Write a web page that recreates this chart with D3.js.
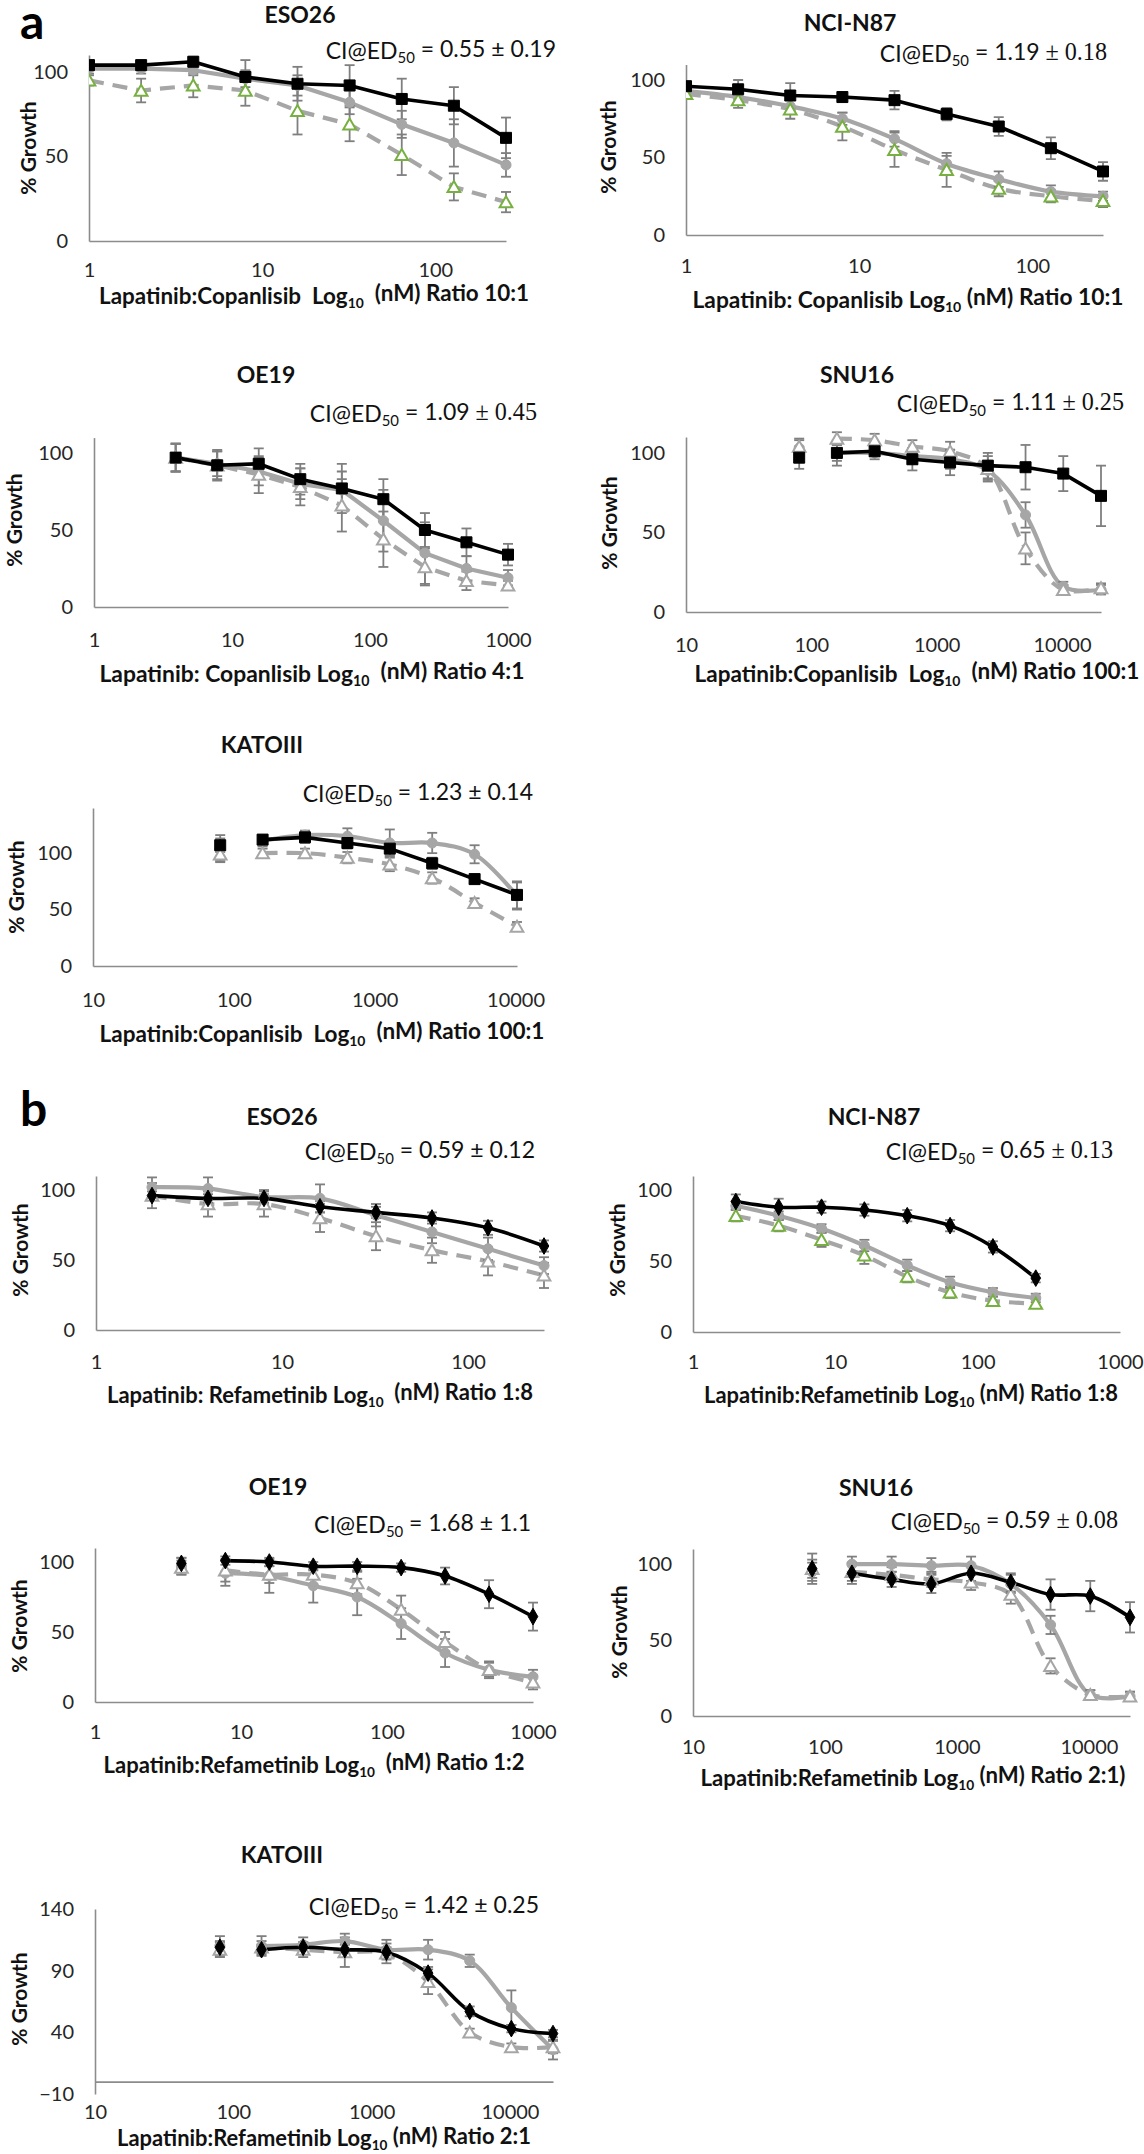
<!DOCTYPE html>
<html><head><meta charset="utf-8">
<script src="https://cdn.jsdelivr.net/npm/d3@7"></script>
<style>
html,body{margin:0;padding:0;background:#fff;}
svg{display:block;}
text{font-family:Lato,'Noto Sans',sans-serif;white-space:pre;}
</style></head><body>
<svg id="fig" width="1144" height="2154"></svg>
<script>
// ---------- DATA ----------
const aESO26_dose = [1, 2, 4, 8, 16, 32, 64, 128, 256];
const aESO26_black = [104, 104, 106, 97, 93, 92, 84, 80, 61];
const aESO26_blackErr = [3, 3, 3, 10, 10, 12, 12, 11, 12];
const aESO26_gray = [102, 102, 101, 96, 92, 82, 69, 58, 45];
const aESO26_grayErr = [3, 3, 3, 5, 6, 7, 8, 14, 7];
const aESO26_tri = [95, 89, 92, 89, 77, 69, 51, 32, 23];
const aESO26_triErr = [3, 7, 7, 9, 14, 10, 12, 8, 6];

const aNCI_dose = [1, 2, 4, 8, 16, 32, 64, 128, 256];
const aNCI_black = [96, 94, 90, 89, 87, 78, 70, 56, 41];
const aNCI_blackErr = [3, 6, 8, 3, 6, 4, 6, 7, 6];
const aNCI_gray = [93, 89, 83, 75, 62, 46, 36, 28, 25];
const aNCI_grayErr = [3, 3, 4, 4, 5, 5, 5, 4, 3];
const aNCI_tri = [91, 87, 81, 70, 55, 42, 30, 25, 22];
const aNCI_triErr = [3, 5, 6, 9, 11, 11, 5, 4, 4];

const aOE19_dose = [3.90625, 7.8125, 15.625, 31.25, 62.5, 125, 250, 500, 1000];
const aOE19_black = [97, 92, 93, 83, 77, 70, 50, 42, 34];
const aOE19_blackErr = [9, 9, 10, 10, 16, 13, 11, 9, 7];
const aOE19_gray = [97, 93, 88, 80, 76, 56, 35, 25, 19];
const aOE19_grayErr = [9, 8, 9, 10, 12, 20, 20, 8, 5];
const aOE19_tri = [97, 92, 86, 78, 66, 44, 26, 17, 14];
const aOE19_triErr = [9, 10, 12, 12, 17, 18, 12, 6, 3];

const aSNU16_dose = [80, 160, 320, 640, 1280, 2560, 5120, 10240, 20480];
const aSNU16_black = [97, 100, 101, 96, 94, 92, 91, 87, 73];
const aSNU16_blackErr = [7, 8, 3, 7, 8, 8, 14, 11, 19];
const aSNU16_gray = [103, 100, 100, 98, 96, 89, 61, 16, 14];
const aSNU16_grayErr = [5, 5, 4, 5, 6, 6, 8, 3, 3];
const aSNU16_tri = [104, 109, 108, 104, 101, 90, 40, 14, 15];
const aSNU16_triErr = [5, 4, 4, 4, 6, 8, 10, 3, 3];

const aKATO_dose = [80, 160, 320, 640, 1280, 2560, 5120, 10240];
const aKATO_black = [107, 112, 114, 109, 104, 91, 77, 63];
const aKATO_blackErr = [6, 4, 5, 5, 6, 5, 4, 12];
const aKATO_gray = [104, 111, 116, 115, 109, 109, 99, 62];
const aKATO_grayErr = [12, 5, 4, 7, 12, 9, 8, 12];
const aKATO_tri = [99, 100, 100, 96, 90, 78, 56, 35];
const aKATO_triErr = [6, 4, 4, 5, 6, 5, 4, 4];

const bESO26_dose = [2, 4, 8, 16, 32, 64, 128, 256];
const bESO26_black = [96, 94, 94, 88, 84, 80, 73, 60];
const bESO26_blackErr = [3, 3, 3, 4, 4, 4, 5, 4];
const bESO26_gray = [102, 101, 95, 94, 82, 70, 58, 46];
const bESO26_grayErr = [7, 8, 5, 10, 8, 8, 8, 6];
const bESO26_tri = [96, 90, 90, 80, 67, 57, 49, 39];
const bESO26_triErr = [9, 9, 9, 10, 10, 9, 10, 9];

const bNCI_dose = [2, 4, 8, 16, 32, 64, 128, 256];
const bNCI_black = [92, 88, 88, 86, 82, 75, 60, 38];
const bNCI_blackErr = [5, 6, 4, 4, 4, 4, 4, 3];
const bNCI_gray = [89, 82, 73, 61, 47, 35, 28, 24];
const bNCI_grayErr = [3, 3, 3, 4, 4, 4, 3, 3];
const bNCI_tri = [82, 75, 65, 54, 39, 28, 22, 20];
const bNCI_triErr = [4, 4, 5, 6, 4, 4, 3, 3];

const bOE19_dose = [3.90625, 7.8125, 15.625, 31.25, 62.5, 125, 250, 500, 1000];
const bOE19_black = [99, 101, 100, 97, 97, 96, 90, 77, 61];
const bOE19_blackErr = [4, 3, 3, 3, 3, 3, 6, 10, 10];
const bOE19_gray = [97, 92, 90, 83, 75, 56, 35, 23, 18];
const bOE19_grayErr = [6, 9, 12, 12, 13, 11, 10, 6, 5];
const bOE19_tri = [96, 94, 91, 91, 85, 66, 43, 23, 14];
const bOE19_triErr = [5, 8, 6, 7, 8, 10, 7, 5, 5];

const bSNU16_dose = [80, 160, 320, 640, 1280, 2560, 5120, 10240, 20480];
const bSNU16_black = [97, 94, 90, 87, 94, 88, 80, 79, 65];
const bSNU16_blackErr = [10, 7, 5, 6, 5, 6, 10, 10, 10];
const bSNU16_gray = [95, 100, 100, 99, 99, 87, 60, 14, 13];
const bSNU16_grayErr = [6, 5, 5, 5, 6, 6, 6, 3, 3];
const bSNU16_tri = [97, 95, 93, 90, 88, 80, 33, 14, 13];
const bSNU16_triErr = [6, 6, 5, 5, 5, 6, 5, 3, 3];

const bKATO_dose = [80, 160, 320, 640, 1280, 2560, 5120, 10240, 20480];
const bKATO_black = [109, 107, 109, 107, 105, 88, 57, 43, 39];
const bKATO_blackErr = [5, 4, 4, 4, 4, 5, 4, 3, 3];
const bKATO_gray = [110, 110, 111, 114, 107, 107, 98, 60, 26];
const bKATO_grayErr = [8, 8, 6, 6, 8, 8, 5, 14, 8];
const bKATO_tri = [107, 109, 107, 105, 104, 81, 40, 28, 28];
const bKATO_triErr = [6, 5, 6, 12, 8, 10, 3, 3, 5];

const titles = ["ESO26", "NCI-N87", "OE19", "SNU16", "KATOIII", "ESO26", "NCI-N87", "OE19", "SNU16", "KATOIII"];
const ciMain = ["0.55", "1.19", "1.09", "1.11", "1.23", "0.59", "0.65", "1.68", "0.59", "1.42"];
const ciErr = ["0.19", "0.18", "0.45", "0.25", "0.14", "0.12", "0.13", "1.1", "0.08", "0.25"];
const xTitlePre = ["Lapatinib:Copanlisib  Log", "Lapatinib: Copanlisib Log", "Lapatinib: Copanlisib Log",
  "Lapatinib:Copanlisib  Log", "Lapatinib:Copanlisib  Log", "Lapatinib: Refametinib Log",
  "Lapatinib:Refametinib Log", "Lapatinib:Refametinib Log", "Lapatinib:Refametinib Log", "Lapatinib:Refametinib Log"];
const xTitlePost = ["  (nM) Ratio 10:1", " (nM) Ratio 10:1", "  (nM) Ratio 4:1", "  (nM) Ratio 100:1", "  (nM) Ratio 100:1",
  "  (nM) Ratio 1:8", " (nM) Ratio 1:8", "  (nM) Ratio 1:2", " (nM) Ratio 2:1)", " (nM) Ratio 2:1"];
const xDomains = [[1, 256], [1, 256], [1, 1000], [10, 20480], [10, 10240], [1, 256], [1, 1000], [1, 1000], [10, 20480], [10, 20480]];
const yDomains = [[0, 110], [0, 110], [0, 110], [0, 110], [0, 140], [0, 110], [0, 110], [0, 110], [0, 110], [-10, 140]];
const yTickSets = [[0, 50, 100], [0, 50, 100], [0, 50, 100], [0, 50, 100], [0, 50, 100], [0, 50, 100], [0, 50, 100], [0, 50, 100], [0, 50, 100], [-10, 40, 90, 140]];
const xTickSets = [[1, 10, 100], [1, 10, 100], [1, 10, 100, 1000], [10, 100, 1000, 10000], [10, 100, 1000, 10000],
  [1, 10, 100], [1, 10, 100, 1000], [1, 10, 100, 1000], [10, 100, 1000, 10000], [10, 100, 1000, 10000]];

// ---------- STYLE / LAYOUT ----------
const seriesSets = [
  [aESO26_dose, aESO26_black, aESO26_blackErr, aESO26_gray, aESO26_grayErr, aESO26_tri, aESO26_triErr],
  [aNCI_dose, aNCI_black, aNCI_blackErr, aNCI_gray, aNCI_grayErr, aNCI_tri, aNCI_triErr],
  [aOE19_dose, aOE19_black, aOE19_blackErr, aOE19_gray, aOE19_grayErr, aOE19_tri, aOE19_triErr],
  [aSNU16_dose, aSNU16_black, aSNU16_blackErr, aSNU16_gray, aSNU16_grayErr, aSNU16_tri, aSNU16_triErr],
  [aKATO_dose, aKATO_black, aKATO_blackErr, aKATO_gray, aKATO_grayErr, aKATO_tri, aKATO_triErr],
  [bESO26_dose, bESO26_black, bESO26_blackErr, bESO26_gray, bESO26_grayErr, bESO26_tri, bESO26_triErr],
  [bNCI_dose, bNCI_black, bNCI_blackErr, bNCI_gray, bNCI_grayErr, bNCI_tri, bNCI_triErr],
  [bOE19_dose, bOE19_black, bOE19_blackErr, bOE19_gray, bOE19_grayErr, bOE19_tri, bOE19_triErr],
  [bSNU16_dose, bSNU16_black, bSNU16_blackErr, bSNU16_gray, bSNU16_grayErr, bSNU16_tri, bSNU16_triErr],
  [bKATO_dose, bKATO_black, bKATO_blackErr, bKATO_gray, bKATO_grayErr, bKATO_tri, bKATO_triErr]
];
// ax: y-axis x, axEnd: x-axis end, py0/py1: pixel of y-domain min/max
const layouts = [
  {ax: 89, axEnd: 506, py0: 241, py1: 55, tx: 300, ty: 23, cx: 556, cy: 59, xl: 270, xtx: 314, xty: 304, xtw: 430, ytx: 27, yty: 148},
  {ax: 686, axEnd: 1103, py0: 235, py1: 64.5, tx: 850, ty: 31, cx: 1107, cy: 62, xl: 266, xtx: 908, xty: 308, xtw: 431, ytx: 607, yty: 147},
  {ax: 94, axEnd: 508, py0: 607, py1: 437.6, tx: 266, ty: 383, cx: 537, cy: 422, xl: 640, xtx: 312, xty: 682, xtw: 425, ytx: 13, yty: 520},
  {ax: 686, axEnd: 1101, py0: 612, py1: 437, tx: 857, ty: 383, cx: 1124, cy: 412, xl: 645, xtx: 917, xty: 682, xtw: 445, ytx: 608, yty: 523},
  {ax: 93, axEnd: 517, py0: 966, py1: 808, tx: 262, ty: 753, cx: 533, cy: 802, xl: 1000, xtx: 322, xty: 1042, xtw: 445, ytx: 15, yty: 887},
  {ax: 96, axEnd: 544, py0: 1330, py1: 1176, tx: 282, ty: 1125, cx: 535, cy: 1160, xl: 1362, xtx: 320, xty: 1403, xtw: 426, ytx: 19, yty: 1250},
  {ax: 693, axEnd: 1120, py0: 1332, py1: 1176, tx: 874, ty: 1125, cx: 1113, cy: 1160, xl: 1362, xtx: 911, xty: 1403, xtw: 414, ytx: 616, yty: 1250},
  {ax: 95, axEnd: 533, py0: 1702, py1: 1548, tx: 278, ty: 1495, cx: 531, cy: 1533, xl: 1732, xtx: 314, xty: 1773, xtw: 421, ytx: 18, yty: 1626},
  {ax: 693, axEnd: 1130, py0: 1716, py1: 1549, tx: 876, ty: 1496, cx: 1118, cy: 1530, xl: 1747, xtx: 913, xty: 1786, xtw: 425, ytx: 618, yty: 1632},
  {ax: 95, axEnd: 553, py0: 2094, py1: 1909, tx: 282, ty: 1863, cx: 539, cy: 1915, xl: 2112, xtx: 324, xty: 2146, xtw: 414, ytx: 18, yty: 1999}
];
const panelStyle = [
  {green: true, sq: true, smB: false, smG: false, start: 0, serif: false},
  {green: true, sq: true, smB: false, smG: true, start: 0, serif: true},
  {green: false, sq: true, smB: false, smG: false, start: 0, serif: true},
  {green: false, sq: true, smB: false, smG: true, start: 1, serif: true},
  {green: false, sq: true, smB: false, smG: true, start: 1, serif: false},
  {green: false, sq: false, smB: true, smG: true, start: 0, serif: false},
  {green: true, sq: false, smB: true, smG: true, start: 0, serif: true},
  {green: false, sq: false, smB: true, smG: true, start: 1, serif: false},
  {green: false, sq: false, smB: true, smG: true, start: 1, serif: true},
  {green: false, sq: false, smB: true, smG: true, start: 1, serif: false}
];

const GRAY = "#a6a6a6", ERR = "#7f7f7f", AXIS = "#8c8c8c", GREEN = "#77b041", TXT = "#262626";
const svg = d3.select("#fig");
svg.append("rect").attr("width", 1144).attr("height", 2154).attr("fill", "#fff");

function fitWidth(sel, target) {
  const w = sel.node().getBBox().width;
  const fs = parseFloat(sel.attr("font-size"));
  if (w > 0) sel.attr("font-size", (fs * target / w).toFixed(2));
}

titles.forEach((title, i) => {
  const L = layouts[i], S = panelStyle[i], D = seriesSets[i];
  const [dose, black, blackErr, gray, grayErr, tri, triErr] = D;
  const g = svg.append("g");
  const clipId = "clip" + i;
  const x = d3.scaleLog().domain(xDomains[i]).range([L.ax, L.axEnd]);
  const y = d3.scaleLinear().domain(yDomains[i]).range([L.py0, L.py1]);

  g.append("clipPath").attr("id", clipId).append("rect")
    .attr("x", L.ax).attr("y", L.py1 - 40).attr("width", L.axEnd - L.ax + 40).attr("height", L.py0 - L.py1 + 80);

  // axes
  const yAx = g.append("g").attr("transform", `translate(${L.ax},0)`)
    .call(d3.axisLeft(y).tickValues(yTickSets[i]).tickSize(0).tickPadding(21));
  const xAx = g.append("g").attr("transform", `translate(0,${y(0)})`)
    .call(d3.axisBottom(x).tickValues(xTickSets[i]).tickFormat(d3.format("d")).tickSize(0));
  [yAx, xAx].forEach(a => {
    a.select(".domain").attr("stroke", AXIS).attr("stroke-width", 1.6);
    a.selectAll(".tick line").remove();
    a.selectAll("text").attr("font-size", 20).attr("fill", TXT)
      .attr("font-family", "Lato, 'Noto Sans', sans-serif");
  });
  xAx.selectAll("text").attr("y", L.xl - y(0)).attr("dy", "0.35em");

  const plot = g.append("g").attr("clip-path", `url(#${clipId})`);
  const mk = (vals) => dose.map((d, k) => ({d, v: vals[k], k}));
  const series = [
    {vals: gray, err: grayErr, color: GRAY, width: 4.2, dash: null, sym: d3.symbolCircle, size: 80, fill: GRAY, stroke: GRAY, smooth: S.smG},
    {vals: tri, err: triErr, color: GRAY, width: 4.2, dash: "15,9", sym: d3.symbolTriangle, size: 70, fill: "#fff", stroke: S.green ? GREEN : GRAY, smooth: S.smG},
    {vals: black, err: blackErr, color: "#000", width: 3.6, dash: null, sym: S.sq ? d3.symbolSquare : d3.symbolDiamond, size: S.sq ? 121 : 80, fill: "#000", stroke: "#000", smooth: S.smB}
  ];
  // lines
  series.forEach(s => {
    const pts = mk(s.vals).filter(p => p.k >= S.start);
    const line = d3.line().x(p => x(p.d)).y(p => y(p.v))
      .curve(s.smooth ? d3.curveCatmullRom.alpha(0.5) : d3.curveLinear);
    plot.append("path").datum(pts).attr("d", line).attr("fill", "none")
      .attr("stroke", s.color).attr("stroke-width", s.width)
      .attr("stroke-dasharray", s.dash).attr("stroke-linejoin", "round");
  });
  // error bars
  series.forEach(s => {
    const pts = mk(s.vals).map((p, k) => ({...p, e: s.err[k]}));
    const eb = plot.append("g").attr("stroke", ERR).attr("stroke-width", 1.8);
    pts.forEach(p => {
      const xx = x(p.d), y1 = y(p.v + p.e), y2 = y(p.v - p.e);
      eb.append("line").attr("x1", xx).attr("x2", xx).attr("y1", y1).attr("y2", y2);
      eb.append("line").attr("x1", xx - 5).attr("x2", xx + 5).attr("y1", y1).attr("y2", y1);
      eb.append("line").attr("x1", xx - 5).attr("x2", xx + 5).attr("y1", y2).attr("y2", y2);
    });
  });
  // markers
  series.forEach(s => {
    const sym = d3.symbol().type(s.sym).size(s.size);
    plot.append("g").selectAll("path").data(mk(s.vals)).join("path")
      .attr("d", sym)
      .attr("transform", p => `translate(${x(p.d)},${y(p.v) + (s.sym === d3.symbolTriangle ? 1.5 : 0)})`)
      .attr("fill", s.fill).attr("stroke", s.stroke)
      .attr("stroke-width", s.sym === d3.symbolTriangle ? 2 : 1);
  });

  // title
  g.append("text").attr("x", L.tx).attr("y", L.ty).attr("text-anchor", "middle")
    .attr("font-size", 23).attr("font-weight", 700).attr("fill", "#111").text(title);
  // CI label
  const ci = g.append("text").attr("x", L.cx).attr("y", L.cy).attr("text-anchor", "end")
    .attr("font-size", 23).attr("fill", "#111");
  ci.append("tspan").text("CI@ED");
  ci.append("tspan").attr("font-size", "0.65em").attr("dy", "0.3em").text("50");
  ci.append("tspan").attr("dy", "-0.3em").text(" = " + ciMain[i] + " ");
  const tail = ci.append("tspan").text("\u00b1 " + ciErr[i]);
  if (S.serif) tail.attr("font-family", "'Liberation Serif', 'DejaVu Serif', serif").attr("font-size", "1.05em");
  // x title
  const xt = g.append("text").attr("x", L.xtx).attr("y", L.xty).attr("text-anchor", "middle")
    .attr("font-size", 20).attr("font-weight", 700).attr("fill", "#111");
  xt.append("tspan").text(xTitlePre[i]);
  xt.append("tspan").attr("font-size", "0.62em").attr("dy", "0.3em").text("10");
  xt.append("tspan").attr("dy", "-0.3em").text(xTitlePost[i]);
  fitWidth(xt, L.xtw);
  // y title
  g.append("text").attr("transform", `translate(${L.ytx},${L.yty}) rotate(-90)`)
    .attr("text-anchor", "middle").attr("dominant-baseline", "central")
    .attr("font-size", 21).attr("font-weight", 700).attr("fill", "#111").text("% Growth");
});

// panel letters
svg.append("text").attr("x", 20).attr("y", 39).attr("font-size", 48).attr("font-weight", 700)
  .attr("font-family", "'Liberation Sans', Arial, sans-serif").attr("fill", "#000").text("a");
svg.append("text").attr("x", 20).attr("y", 1126).attr("font-size", 48).attr("font-weight", 700)
  .attr("font-family", "'Liberation Sans', Arial, sans-serif").attr("fill", "#000").text("b");
</script></body></html>
